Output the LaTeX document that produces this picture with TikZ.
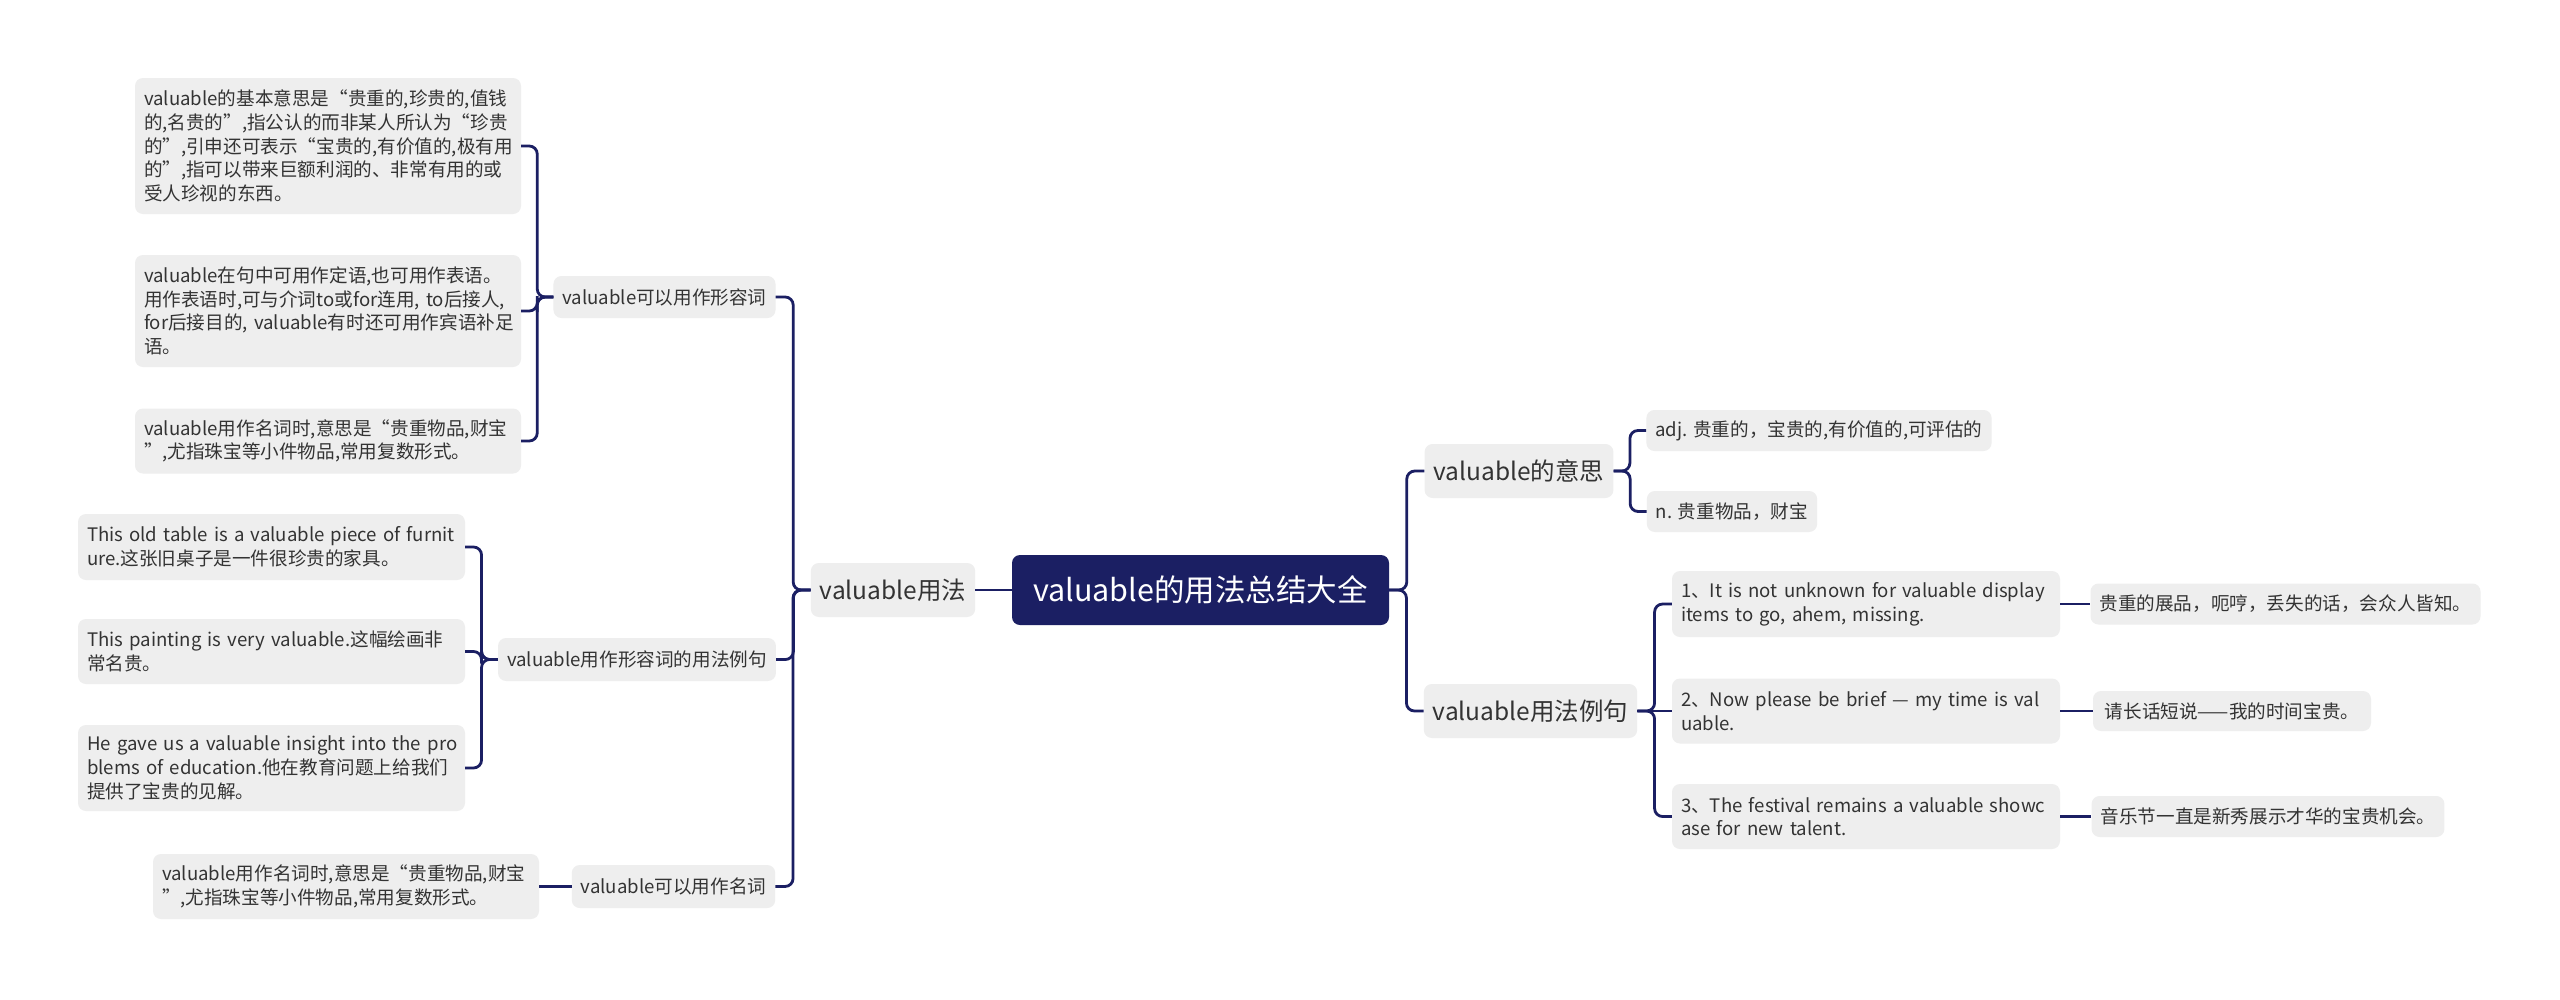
\documentclass[tikz,border=0pt]{standalone}
\usepackage{fontspec}
\setmainfont{Noto Sans CJK SC}
\usetikzlibrary{calc}
\definecolor{navy}{HTML}{1B1F63}
\definecolor{boxgray}{HTML}{EEEEEE}
\definecolor{txt}{HTML}{333333}
\newcommand\lineb[1]{\mbox{#1}}
\newcommand\lconn[2]{\draw[conn] (#1.west) -| ($(#1.west)!.5!(#2.east)$) |- (#2.east);}
\newcommand\rconn[2]{\draw[conn] (#1.east) -| ($(#1.east)!.5!(#2.west)$) |- (#2.west);}
\begin{document}
\begin{tikzpicture}[x=1pt,y=-1pt,
  base/.style={fill=boxgray, rounded corners=8pt, text=txt, align=left, inner ysep=0pt, inner xsep=9pt},
  leaf/.style={base, font=\fontsize{18.6}{23.7}\selectfont},
  multi/.style={text width=#1},
  midbox/.style={base, font=\fontsize{24.5}{30}\selectfont},
  rootbox/.style={fill=navy, rounded corners=8pt, text=white, inner sep=0pt, font=\fontsize{30.5}{36}\selectfont},
  conn/.style={draw=navy, line width=2.8pt, rounded corners=8pt},
]
\fill[white] (0,0) rectangle (2560,999);
\useasboundingbox (0,0) rectangle (2560,999);

% root and level 1
\node[rootbox, minimum width=377pt, minimum height=70pt] (root) at (1200.5,590) {valuable的用法总结大全};
\node[midbox, minimum width=164pt, minimum height=54pt] (use) at (893,590) {valuable用法};
\node[midbox, minimum width=188pt, minimum height=54pt] (mean) at (1519,471) {valuable的意思};
\node[midbox, minimum width=211pt, minimum height=54pt] (ex) at (1530.5,711) {valuable用法例句};

% left level 2
\node[leaf, minimum width=219pt, minimum height=42pt] (pa) at (664.5,297) {valuable可以用作形容词};
\node[leaf, minimum width=274pt, minimum height=43pt] (pb) at (637,659.5) {valuable用作形容词的用法例句};
\node[leaf, minimum width=201pt, minimum height=43pt] (pc) at (673.5,886.5) {valuable可以用作名词};

% left leaves
\node[leaf, multi=368pt, minimum height=136pt] (a1) at (328,146) {\lineb{valuable的基本意思是“贵重的,珍贵的,值钱}\\\lineb{的,名贵的”,指公认的而非某人所认为“珍贵}\\\lineb{的”,引申还可表示“宝贵的,有价值的,极有用}\\\lineb{的”,指可以带来巨额利润的、非常有用的或}\\\lineb{受人珍视的东西。}};
\node[leaf, multi=368pt, minimum height=112pt] (a2) at (328,311) {\lineb{valuable在句中可用作定语,也可用作表语。}\\\lineb{用作表语时,可与介词to或for连用, to后接人,}\\\lineb{for后接目的, valuable有时还可用作宾语补足}\\\lineb{语。}};
\node[leaf, multi=368pt, minimum height=65pt] (a3) at (328,441) {\lineb{valuable用作名词时,意思是“贵重物品,财宝}\\\lineb{”,尤指珠宝等小件物品,常用复数形式。}};

\node[leaf, multi=369pt, minimum height=66pt] (b1) at (271.5,547) {\lineb{This old table is a valuable piece of furnit}\\\lineb{ure.这张旧桌子是一件很珍贵的家具。}};
\node[leaf, multi=369pt, minimum height=65pt] (b2) at (271.5,651.5) {\lineb{This painting is very valuable.这幅绘画非}\\\lineb{常名贵。}};
\node[leaf, multi=369pt, minimum height=86pt] (b3) at (271.5,768) {\lineb{He gave us a valuable insight into the pro}\\\lineb{blems of education.他在教育问题上给我们}\\\lineb{提供了宝贵的见解。}};

\node[leaf, multi=368pt, minimum height=65pt] (c1) at (346,886.5) {\lineb{valuable用作名词时,意思是“贵重物品,财宝}\\\lineb{”,尤指珠宝等小件物品,常用复数形式。}};

% right level 2
\node[leaf, minimum width=340pt, minimum height=41pt] (m1) at (1819,430.5) {adj. 贵重的，宝贵的,有价值的,可评估的};
\node[leaf, minimum width=166pt, minimum height=41pt] (m2) at (1732,511.5) {n. 贵重物品，财宝};

\node[leaf, multi=370pt, minimum height=66pt] (e1) at (1866,604) {\lineb{1、It is not unknown for valuable display}\\\lineb{items to go, ahem, missing.}};
\node[leaf, multi=370pt, minimum height=65pt] (e2) at (1866,711) {\lineb{2、Now please be brief — my time is val}\\\lineb{uable.}};
\node[leaf, multi=370pt, minimum height=65pt] (e3) at (1866,816.5) {\lineb{3、The festival remains a valuable showc}\\\lineb{ase for new talent.}};

\node[leaf, minimum width=385pt, minimum height=41pt] (t1) at (2285.5,604) {贵重的展品，呃哼，丢失的话，会众人皆知。};
\node[leaf, minimum width=278pt, minimum height=40pt] (t2) at (2232,711) {请长话短说——我的时间宝贵。};
\node[leaf, minimum width=350pt, minimum height=41pt] (t3) at (2268,816.5) {音乐节一直是新秀展示才华的宝贵机会。};

% connectors
\draw[conn] (root.west) -- (use.east);
\lconn{use}{pa}
\lconn{use}{pb}
\lconn{use}{pc}
\lconn{pa}{a1}
\lconn{pa}{a2}
\lconn{pa}{a3}
\lconn{pb}{b1}
\lconn{pb}{b2}
\lconn{pb}{b3}
\draw[conn] (pc.west) -- (c1.east);

\rconn{root}{mean}
\rconn{root}{ex}
\rconn{mean}{m1}
\rconn{mean}{m2}
\rconn{ex}{e1}
\draw[conn] (ex.east) -- (e2.west);
\rconn{ex}{e3}
\draw[conn] (e1.east) -- (t1.west);
\draw[conn] (e2.east) -- (t2.west);
\draw[conn] (e3.east) -- (t3.west);
\end{tikzpicture}
\end{document}
